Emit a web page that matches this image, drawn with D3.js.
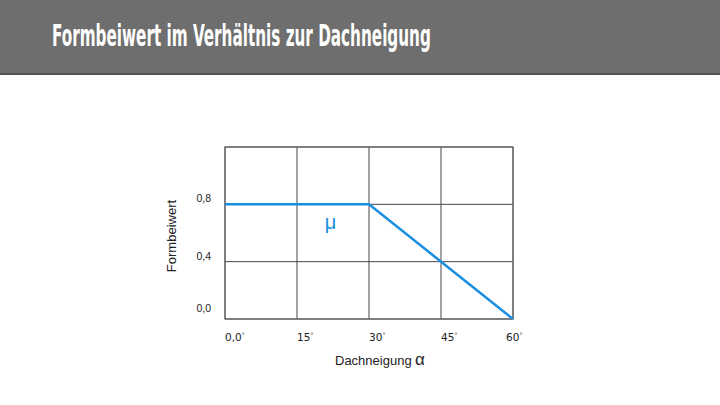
<!DOCTYPE html>
<html>
<head>
<meta charset="utf-8">
<script src="https://cdn.jsdelivr.net/npm/d3@7"></script>
<style>
  html, body { margin: 0; padding: 0; background: #fff; }
</style>
</head>
<body>
<div id="chart"></div>
<script>
// data
const slopeTicks = [0, 15, 30, 45, 60];
const slopeLabels = ['0,0', '15', '30', '45', '60'];
const valueTicks = [0, 0.4, 0.8];
const valueLabels = ['0,0', '0,4', '0,8'];
const muSlope = [0, 30, 60];
const muValue = [0.8, 0.8, 0];

const W = 720, H = 405;
const margin = { top: 147, left: 225, right: 207, bottom: 86 };
const width = W - margin.left - margin.right;
const height = H - margin.top - margin.bottom;

const svg = d3.select('#chart')
  .append('svg')
  .attr('width', W)
  .attr('height', H)
  .style('font-family', "'Liberation Sans', Arial, sans-serif");

// header band
svg.append('rect')
  .attr('x', 0).attr('y', 0)
  .attr('width', W).attr('height', 74)
  .attr('fill', '#6e6e6e');
svg.append('rect')
  .attr('x', 0).attr('y', 73)
  .attr('width', W).attr('height', 2)
  .attr('fill', '#505050');

// title: condensed bold, squeezed to the reference width
const title = svg.append('text')
  .attr('x', 0).attr('y', 0)
  .attr('fill', '#fff')
  .attr('font-family', "'DejaVu Sans Condensed', 'Liberation Sans Narrow', sans-serif")
  .attr('font-weight', 'bold')
  .attr('font-size', 31)
  .text('Formbeiwert im Verhältnis zur Dachneigung');
const titleLen = title.node().getComputedTextLength();
title.attr('transform', `translate(52, 46) scale(${379 / titleLen}, 1)`);

const g = svg.append('g')
  .attr('transform', `translate(${margin.left}, ${margin.top})`);

const x = d3.scaleLinear().domain([0, 60]).range([0, width]);
const y = d3.scaleLinear().domain([0, 1.2]).range([height, 0]);

// grid
g.append('g')
  .selectAll('line')
  .data(slopeTicks)
  .join('line')
  .attr('x1', (d) => x(d)).attr('x2', (d) => x(d))
  .attr('y1', 0).attr('y2', height)
  .attr('stroke', '#444')
  .attr('stroke-width', 1);

g.append('g')
  .selectAll('line')
  .data(valueTicks.concat([1.2]))
  .join('line')
  .attr('x1', 0).attr('x2', width)
  .attr('y1', (d) => y(d)).attr('y2', (d) => y(d))
  .attr('stroke', '#444')
  .attr('stroke-width', 1);

g.append('rect')
  .attr('x', 0).attr('y', 0)
  .attr('width', width).attr('height', height)
  .attr('fill', 'none')
  .attr('stroke', '#6a6a6a')
  .attr('stroke-width', 1.2);

// y tick labels
g.append('g')
  .selectAll('text')
  .data(valueTicks)
  .join('text')
  .attr('x', -14)
  .attr('y', (d) => y(d) - (d === 0 ? 7 : 2))
  .attr('text-anchor', 'end')
  .attr('font-size', 10.5)
  .attr('fill', '#222')
  .text((d, i) => valueLabels[i]);

// x tick labels
const xt = g.append('g')
  .selectAll('text')
  .data(slopeTicks)
  .join('text')
  .attr('x', (d) => x(d) + (d === 60 ? -7 : 0))
  .attr('y', height + 22)
  .attr('font-family', "'DejaVu Sans', sans-serif")
  .attr('font-size', 10.5)
  .attr('fill', '#222');
xt.append('tspan').text((d, i) => slopeLabels[i]);
xt.append('tspan')
  .attr('dy', -4)
  .attr('font-size', 6)
  .text('°');

// axis titles
g.append('text')
  .attr('transform', `translate(-49, ${height / 2 + 3}) rotate(-90)`)
  .attr('text-anchor', 'middle')
  .attr('font-size', 13)
  .attr('fill', '#222')
  .text('Formbeiwert');

g.append('text')
  .attr('x', 110)
  .attr('y', height + 46)
  .attr('font-size', 13)
  .attr('fill', '#222')
  .text('Dachneigung');

g.append('text')
  .attr('x', 190)
  .attr('y', height + 46)
  .attr('font-size', 17)
  .attr('fill', '#222')
  .text('α');

// mu line
const line = d3.line()
  .x((d) => x(d[0]))
  .y((d) => y(d[1]));

g.append('path')
  .datum(muSlope.map((s, i) => [s, muValue[i]]))
  .attr('d', line)
  .attr('fill', 'none')
  .attr('stroke', '#1a8ee0')
  .attr('stroke-width', 2.5);

g.append('text')
  .attr('x', x(22))
  .attr('y', y(0.8) + 25)
  .attr('text-anchor', 'middle')
  .attr('font-size', 20)
  .attr('fill', '#1a8ee0')
  .text('μ');
</script>
</body>
</html>
